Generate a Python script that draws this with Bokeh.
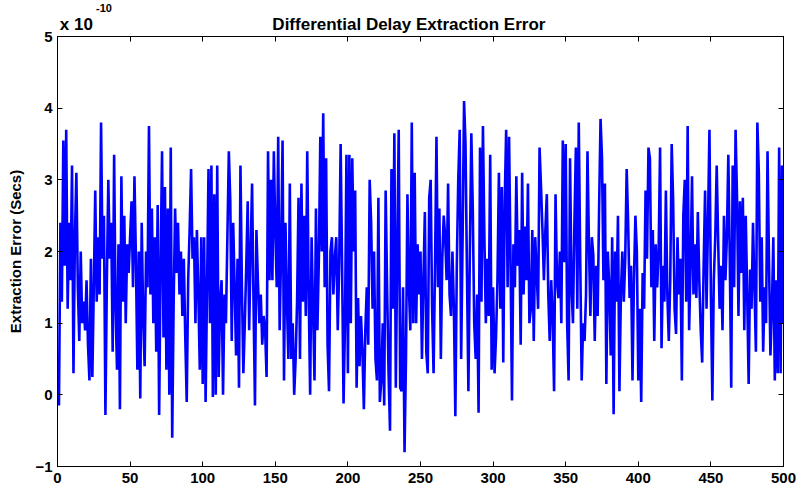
from bokeh.plotting import figure
from bokeh.models import Range1d, FixedTicker, LinearAxis
from bokeh.embed import file_html
from bokeh.resources import INLINE

# Extraction error in units of 1e-10 seconds, sample index 1..500
err_1 = [-0.15, 2.4, 1.3, 3.55, 1.8, 3.7, 1.2, 2.4, 1.6, 3.2, 0.3, 2.2, 3.1, 1.5, 0.75, 2.0, 1.0, 1.3, 0.9, 1.6,
         0.7, 0.2, 1.9, 0.25, 1.5, 2.85, 1.3, 2.2, 1.4, 3.8, 1.9, 2.5, -0.28, 1.6, 3.0, 1.9, 2.4, 0.6, 3.35, 1.2,
         0.35, 2.1, -0.2, 3.05, 1.3, 2.5, 1.0, 2.1, 1.7, 2.2]
err_2 = [2.7, 1.5, 3.05, 1.9, 0.35, 2.0, -0.05, 2.4, 1.1, 0.4, 2.0, 1.5, 3.75, 1.4, 2.6, 1.0, 2.2, 0.6, 2.65, -0.28,
         1.8, 3.4, 0.8, 2.9, 0.35, 2.6, 0.0, 3.45, -0.6, 1.3, 2.6, 1.7, 2.4, 1.4, 2.0, 1.1, 1.9, 0.8, -0.1, 1.6,
         2.3, 3.15, 1.9, 2.2, 1.0, 2.3, 1.4, 0.35, 2.2, 0.15]
err_3 = [2.2, -0.1, 1.5, 3.15, 1.0, 3.2, -0.03, 2.8, 0.0, 3.2, 0.25, 1.3, 1.6, 0.0, 1.4, 1.0, 2.2, 3.4, 2.7, 0.75,
         2.4, 1.5, 0.55, 1.9, 0.1, 3.2, 1.5, 0.3, 1.0, 1.8, 2.7, 0.9, 2.0, 2.95, 1.3, -0.15, 2.3, 1.6, 1.0, 1.4,
         0.7, 1.1, 0.9, 0.25, 3.4, 1.6, 3.0, 1.6, 3.4, 2.3]
err_4 = [1.5, 3.6, 0.9, 2.0, 3.55, 0.2, 2.4, 1.3, 0.5, 2.95, 0.5, 1.0, 0.0, 0.5, 1.3, 2.75, 0.5, 2.95, 1.3, 2.5,
         1.1, 3.4, 1.4, 0.0, 2.2, 1.2, 0.2, 2.6, 0.9, 1.9, 3.6, 2.0, 3.93, 1.5, 3.3, 0.7, 0.05, 2.0, 2.2, 1.4,
         1.9, 2.2, 0.9, 1.8, 3.5, 1.8, -0.12, 1.0, 3.35, 0.3]
err_5 = [3.35, 1.0, 3.3, 2.0, 2.85, 0.1, 1.35, 0.4, 1.1, 0.6, -0.2, 0.9, 1.5, 0.7, 3.0, 2.4, 1.2, 2.0, 0.5, 0.2,
         2.75, -0.1, 0.2, 1.0, -0.15, 2.85, 1.5, 0.3, -0.5, 3.15, 1.2, 3.65, 0.1, 2.0, 3.7, 0.1, 0.05, 1.5, -0.8, 0.5,
         2.8, 1.5, 0.9, 3.8, 1.0, 3.1, 1.0, 2.1, 1.4, 2.0]
err_6 = [0.5, 1.6, 2.55, 0.6, 0.3, 2.75, 3.0, 1.2, 0.3, 1.8, 3.6, 1.5, 2.6, 0.5, 1.9, 2.5, 2.2, 1.6, 2.95, 1.4,
         1.1, 2.0, 1.2, -0.3, 1.8, 3.0, 3.7, 0.5, 2.2, 4.1, 3.5, 1.7, 0.05, 2.0, 3.65, 2.6, 1.0, 0.5, 1.4, -0.25,
         3.45, 1.3, 3.75, 2.2, 1.0, 1.9, 1.1, 3.35, 0.35, 1.5]
err_7 = [0.3, 0.8, 1.6, 3.1, 1.2, 2.9, 0.45, 2.7, 3.7, 1.5, 3.6, 1.9, -0.08, 2.1, 1.5, 3.05, 1.8, 2.3, 0.7, 3.1,
         1.4, 2.35, 1.6, 2.95, 1.0, 1.2, 2.3, 0.75, 2.2, 1.7, 1.2, 3.45, 2.9, 2.3, 1.6, 2.3, 2.8, 1.4, 0.75, 1.6,
         1.1, 0.05, 2.8, 1.6, 1.35, 2.0, 1.0, 3.55, 1.85, 3.5]
err_8 = [1.0, 0.2, 3.3, 1.5, 1.0, 2.4, 3.45, 1.2, 3.8, 1.9, 0.2, 1.0, 0.75, 1.4, 3.4, 2.1, 1.1, 2.2, 1.95, 0.75,
         1.8, 1.1, 2.6, 3.85, 3.3, 1.6, 2.95, 0.15, 2.0, 1.5, 0.55, 2.2, -0.27, 2.0, 1.3, 2.5, 0.05, 1.4, 2.0, 1.3,
         1.9, 3.15, 2.4, 1.35, 1.8, 0.2, 1.6, 2.5, 2.0, 0.2]
err_9 = [1.2, -0.1, 1.7, 1.2, 2.85, 1.9, 3.45, 3.3, 1.5, 2.3, 0.75, 2.1, 1.5, 2.0, 3.45, 0.65, 1.8, 1.3, 2.85, 1.4,
         0.75, 1.6, 3.5, 2.7, 1.2, 0.85, 2.2, 1.4, 1.9, 0.2, 2.5, 3.0, 1.3, 3.75, 0.9, 1.8, 3.05, 1.4, 2.1, 1.35,
         2.55, 1.6, 0.9, 0.45, 1.8, 2.85, 1.2, 2.4, 3.7, 1.4]
err_10 = [-0.08, 1.6, 2.2, 3.2, 2.15, 1.2, 1.8, 0.9, 2.5, 1.6, 2.2, 3.35, 1.9, 0.1, 3.2, 1.5, 3.7, 2.75, 1.1, 2.7,
          1.7, 2.75, 0.9, 2.5, 1.4, 0.15, 1.75, 1.2, 2.4, 1.5, 0.6, 3.8, 3.1, 1.3, 2.2, 0.6, 1.5, 1.0, 3.4, 1.9,
          0.55, 1.2, 2.2, 0.2, 1.6, 0.3, 3.45, 0.3, 3.2, 1.0]

err = err_1 + err_2 + err_3 + err_4 + err_5 + err_6 + err_7 + err_8 + err_9 + err_10
sample = list(range(1, len(err) + 1))

x_ticks = [0, 50, 100, 150, 200, 250, 300, 350, 400, 450, 500]
y_ticks = [-1, 0, 1, 2, 3, 4, 5]
title_text = "Differential Delay Extraction Error"
exp_base_text = "x 10"
exp_pow_text = "-10"

FONT = "Liberation Sans"

p = figure(width=801, height=494, output_backend="svg", toolbar_location=None,
           x_range=Range1d(0, 500), y_range=Range1d(-1, 5), title=None,
           min_border_left=57, min_border_right=18, min_border_top=35, min_border_bottom=28)
p.background_fill_color = "white"
p.border_fill_color = "white"
p.outline_line_color = "black"
p.outline_line_width = 1
p.grid.visible = False

p.line(sample, err, line_color="#0000ff", line_width=2.6)

def style_axis(ax, ticks, labels=True):
    ax.ticker = FixedTicker(ticks=ticks)
    ax.major_tick_in = 5
    ax.major_tick_out = 0
    ax.minor_tick_line_color = None
    ax.axis_line_color = "black"
    ax.major_tick_line_color = "black"
    ax.major_label_text_font = FONT
    ax.major_label_text_font_size = "15px"
    ax.major_label_text_font_style = "bold"
    ax.major_label_text_color = "black"
    ax.major_label_standoff = 5
    if not labels:
        ax.major_label_text_font_size = "0px"
        ax.major_label_text_color = None
        ax.major_label_standoff = 0

style_axis(p.xaxis[0], x_ticks)
style_axis(p.yaxis[0], y_ticks)
p.xaxis[0].major_label_standoff = 6
p.yaxis[0].axis_label = "Extraction Error (Secs)"
p.yaxis[0].axis_label_text_font = FONT
p.yaxis[0].axis_label_text_font_size = "15px"
p.yaxis[0].axis_label_text_font_style = "bold"
p.yaxis[0].axis_label_text_color = "black"
p.yaxis[0].axis_label_standoff = 8

# box ticks on top and right
top = LinearAxis()
style_axis(top, x_ticks, labels=False)
p.add_layout(top, "above")
right = LinearAxis()
style_axis(right, y_ticks, labels=False)
p.add_layout(right, "right")

# text rows above the box: exponent base with chart title, then exponent power
def text_axis(positions, texts, size, standoff):
    ax = LinearAxis()
    ax.ticker = FixedTicker(ticks=positions)
    ax.major_label_overrides = {pos: t for pos, t in zip(positions, texts)}
    ax.axis_line_color = None
    ax.major_tick_line_color = None
    ax.minor_tick_line_color = None
    ax.major_tick_in = 0
    ax.major_tick_out = 0
    ax.major_label_text_font = FONT
    ax.major_label_text_font_size = size
    ax.major_label_text_font_style = "bold"
    ax.major_label_text_color = "black"
    ax.major_label_standoff = standoff
    return ax

p.add_layout(text_axis([13, 242], [exp_base_text, title_text], "17px", 3), "above")
p.add_layout(text_axis([32], [exp_pow_text], "11px", 0), "above")

open("out.html", "w").write(file_html(p, INLINE))
